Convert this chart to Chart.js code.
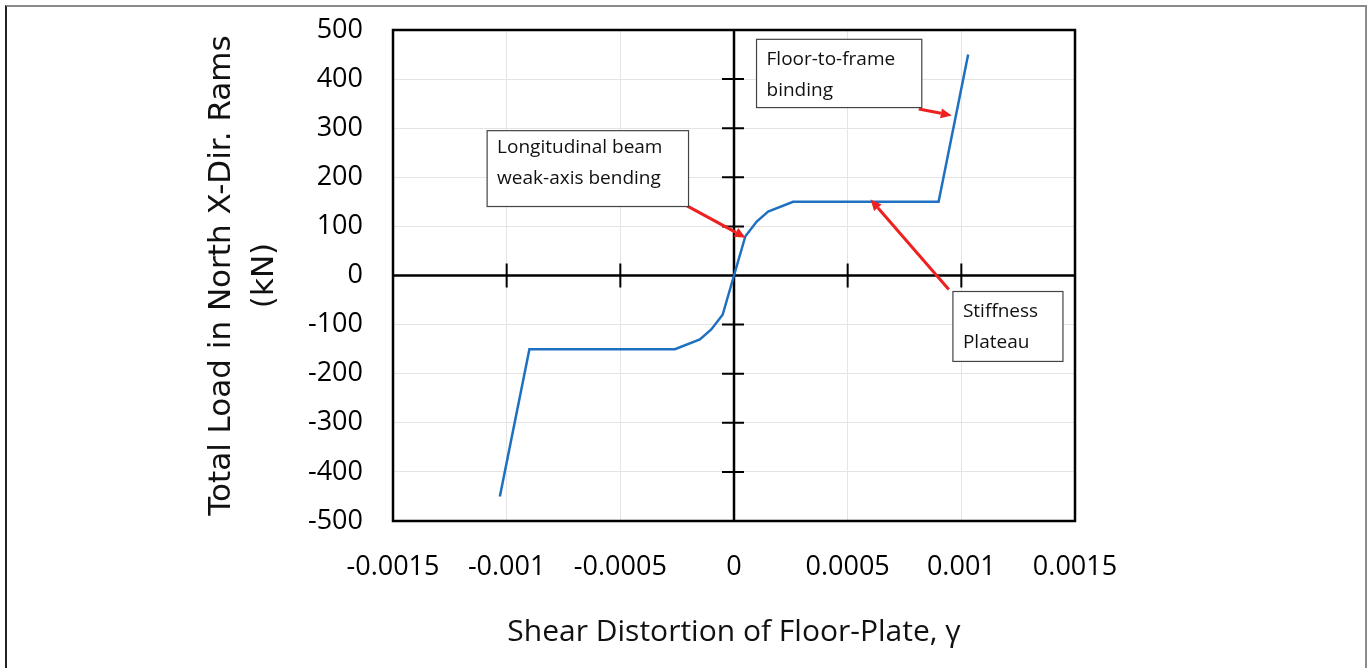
<!DOCTYPE html>
<html>
<head>
<meta charset="utf-8">
<script src="https://cdn.jsdelivr.net/npm/chart.js@4.4.1/dist/chart.umd.min.js"></script>
<style>
  html, body { margin: 0; padding: 0; background: #fff; }
  #wrap { position: relative; width: 1371px; height: 668px; overflow: hidden; }
  #frame { position: absolute; left: 5px; top: 5px; width: 1358px; height: 700px;
           border-left: 2px solid #222; border-top: 2px solid #8a8a8a; border-right: 2px solid #8a8a8a; }
  #chart { position: absolute; left: 0; top: 0; }
</style>
</head>
<body>
<div id="wrap">
  <div id="frame"></div>
  <canvas id="chart" width="1371" height="668"></canvas>
</div>
<script>
// 剪切变形 vs 荷载（读图估算）
var gammaValues = [-0.00103, -0.0009, -0.00026, -0.00015, -0.0001, -0.00005, 0, 0.00005, 0.0001, 0.00015, 0.00026, 0.0009, 0.00103];
var loadValues  = [-450, -150, -150, -130, -110, -80, 0, 80, 110, 130, 150, 150, 450];

var xMin = -0.0015, xMax = 0.0015, xStep = 0.0005;
var yMin = -500, yMax = 500, yStep = 100;

var xTitle = 'Shear Distortion of Floor-Plate, γ';
var yTitle = ['Total Load in North X-Dir. Rams', '(kN)'];

// 标注框与箭头（数据坐标）
var noteBoxes = [
  { x0: -0.001086, x1: -0.0002,  y0: 295,  y1: 140.5, lines: ['Longitudinal beam', 'weak-axis bending'], first: 17 },
  { x0: 0.0000991, x1: 0.000826, y0: 481,  y1: 342,   lines: ['Floor-to-frame', 'binding'], first: 20 },
  { x0: 0.000963,  x1: 0.001447, y0: -32.6, y1: -175, lines: ['Stiffness', 'Plateau'], first: 20 }
];
var noteArrows = [
  { fx: -0.000227, fy: 147, tx: 0.0000507, ty: 77 },
  { fx: 0.000813,  fy: 339, tx: 0.000958,  ty: 326 },
  { fx: 0.000945,  fy: -28.5, tx: 0.000601, ty: 155 }
];

var points = gammaValues.map(function(g, i) { return { x: g, y: loadValues[i] }; });

function fmtX(v) {
  var n = Number(v.toFixed(4));
  return n === 0 ? '0' : String(n);
}

var axesPlugin = {
  id: 'crossAxes',
  beforeDatasetsDraw: function(chart) {
    var ctx = chart.ctx, xs = chart.scales.x, ys = chart.scales.y, a = chart.chartArea;
    var x0 = xs.getPixelForValue(0), y0 = ys.getPixelForValue(0);
    ctx.save();
    ctx.strokeStyle = '#000';
    ctx.lineWidth = 2.5;
    ctx.beginPath();
    ctx.moveTo(a.left, y0); ctx.lineTo(a.right, y0);
    ctx.moveTo(x0, a.top); ctx.lineTo(x0, a.bottom);
    ctx.stroke();
    // 刻度线（穿过坐标轴）
    ctx.lineWidth = 2;
    ctx.beginPath();
    for (var v = xMin + xStep; v < xMax - 1e-9; v += xStep) {
      if (Math.abs(v) < 1e-9) continue;
      var px = xs.getPixelForValue(v);
      ctx.moveTo(px, y0 - 12); ctx.lineTo(px, y0 + 12);
    }
    for (var w = yMin + yStep; w < yMax; w += yStep) {
      if (w === 0) continue;
      var py = ys.getPixelForValue(w);
      ctx.moveTo(x0 - 12, py); ctx.lineTo(x0 + 10, py);
    }
    ctx.stroke();
    ctx.restore();
  },
  afterDatasetsDraw: function(chart) {
    var ctx = chart.ctx, xs = chart.scales.x, ys = chart.scales.y, a = chart.chartArea;
    ctx.save();
    ctx.strokeStyle = '#000';
    ctx.lineWidth = 2.5;
    ctx.strokeRect(a.left, a.top, a.right - a.left, a.bottom - a.top);

    // 箭头
    ctx.strokeStyle = '#ee2020';
    ctx.fillStyle = '#ee2020';
    ctx.lineWidth = 3;
    noteArrows.forEach(function(ar) {
      var fx = xs.getPixelForValue(ar.fx), fy = ys.getPixelForValue(ar.fy);
      var tx = xs.getPixelForValue(ar.tx), ty = ys.getPixelForValue(ar.ty);
      var ang = Math.atan2(ty - fy, tx - fx);
      var hl = 11, hw = 5;
      var bx = tx - hl * Math.cos(ang), by = ty - hl * Math.sin(ang);
      ctx.beginPath();
      ctx.moveTo(fx, fy); ctx.lineTo(bx, by);
      ctx.stroke();
      ctx.beginPath();
      ctx.moveTo(tx, ty);
      ctx.lineTo(bx + hw * Math.sin(ang), by - hw * Math.cos(ang));
      ctx.lineTo(bx - hw * Math.sin(ang), by + hw * Math.cos(ang));
      ctx.closePath();
      ctx.fill();
    });

    // 标注框
    ctx.font = '19px "Open Sans"';
    ctx.textBaseline = 'middle';
    ctx.textAlign = 'left';
    noteBoxes.forEach(function(b) {
      var l = xs.getPixelForValue(b.x0), r = xs.getPixelForValue(b.x1);
      var t = ys.getPixelForValue(b.y0), btm = ys.getPixelForValue(b.y1);
      ctx.fillStyle = '#fff';
      ctx.fillRect(l, t, r - l, btm - t);
      ctx.strokeStyle = '#444';
      ctx.lineWidth = 1.2;
      ctx.strokeRect(l, t, r - l, btm - t);
      ctx.fillStyle = '#111';
      b.lines.forEach(function(s, i) {
        ctx.fillText(s, l + 10, t + b.first + i * 31);
      });
    });
    ctx.restore();
  }
};

new Chart(document.getElementById('chart'), {
  type: 'scatter',
  data: {
    datasets: [{
      data: points,
      showLine: true,
      borderColor: '#1f70c1',
      borderWidth: 2.5,
      pointRadius: 0,
      pointHoverRadius: 0,
      fill: false,
      tension: 0
    }]
  },
  options: {
    responsive: false,
    animation: false,
    layout: { padding: { left: 0, right: 296, top: 30, bottom: 0 } },
    plugins: { legend: { display: false }, tooltip: { enabled: false } },
    scales: {
      x: {
        type: 'linear',
        min: xMin, max: xMax,
        afterFit: function(s) { s.height = 147; s.paddingLeft = 0; s.paddingRight = 0; },
        ticks: { stepSize: xStep, padding: 30, color: '#000', font: { family: 'Open Sans', size: 27 }, callback: fmtX, maxRotation: 0, autoSkip: false },
        grid: { color: '#e4e4e4', lineWidth: 1, drawTicks: false },
        border: { display: false },
        title: { display: true, text: xTitle, color: '#111', font: { family: 'Open Sans', size: 30 }, padding: { top: 0, bottom: 18 } }
      },
      y: {
        type: 'linear',
        min: yMin, max: yMax,
        afterFit: function(s) { s.width = 393; s.paddingTop = 0; s.paddingBottom = 0; },
        ticks: { stepSize: yStep, padding: 30, color: '#000', font: { family: 'Open Sans', size: 27 } },
        grid: { color: '#e4e4e4', lineWidth: 1, drawTicks: false },
        border: { display: false },
        title: { display: true, text: yTitle, color: '#111', font: { family: 'DejaVu Sans', size: 31, lineHeight: 1.4 }, padding: { top: 200, bottom: 0 } }
      }
    }
  },
  plugins: [axesPlugin]
});
</script>
</body>
</html>
